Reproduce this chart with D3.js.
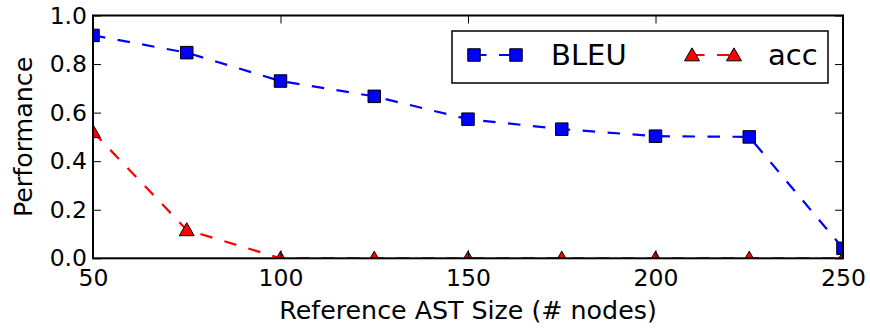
<!DOCTYPE html>
<html>
<head>
<meta charset="utf-8">
<script src="https://cdn.jsdelivr.net/npm/d3@7"></script>
<style>
  body { margin: 0; background: white; }
  text { font-family: "DejaVu Sans", sans-serif; fill: black; }
</style>
</head>
<body>
<div class="chart"></div>
<script>
const astSizes = [50, 75, 100, 125, 150, 175, 200, 225, 250]
const bleuValues = [0.918, 0.847, 0.730, 0.667, 0.573, 0.532, 0.503, 0.500, 0.041]
const accValues = [0.521, 0.117, 0, 0, 0, 0, 0, 0, 0]
const xTickValues = [50, 100, 150, 200, 250]
const yTickValues = [0, 0.2, 0.4, 0.6, 0.8, 1.0]

const drawChart = () => {
  const dims = {
    width: 870,
    height: 329,
    margin: { top: 15.5, right: 27, bottom: 70.7, left: 93 }
  }
  dims.boundedWidth = dims.width - dims.margin.left - dims.margin.right
  dims.boundedHeight = dims.height - dims.margin.top - dims.margin.bottom

  const series = [
    { name: "BLEU", values: bleuValues, color: "#0000ff", marker: "square" },
    { name: "acc", values: accValues, color: "#ff0000", marker: "triangle" }
  ]

  const xScale = d3.scaleLinear()
    .domain([50, 250])
    .range([0, dims.boundedWidth])

  const yScale = d3.scaleLinear()
    .domain([0, 1])
    .range([dims.boundedHeight, 0])

  const lineGenerator = d3.line()
    .x(d => xScale(d[0]))
    .y(d => yScale(d[1]))

  const svg = d3.select(".chart")
    .append("svg")
      .attr("width", dims.width)
      .attr("height", dims.height)

  const bounds = svg.append("g")
      .attr("transform", `translate(${dims.margin.left},${dims.margin.top})`)

  bounds.append("clipPath")
      .attr("id", "plot-clip")
    .append("rect")
      .attr("width", dims.boundedWidth)
      .attr("height", dims.boundedHeight)

  const markerSize = 12.5
  const squarePath = d3.symbol().type(d3.symbolSquare).size(markerSize * markerSize)
  const trianglePath = d3.symbol().type(d3.symbolTriangle).size(markerSize * markerSize * 0.62)

  const plot = bounds.append("g").attr("clip-path", "url(#plot-clip)")

  series.forEach(s => {
    const pts = astSizes.map((x, i) => [x, s.values[i]])
    plot.append("path")
      .attr("d", lineGenerator(pts))
      .attr("fill", "none")
      .attr("stroke", s.color)
      .attr("stroke-width", 2.2)
      .attr("stroke-dasharray", "12.5,12.5")
  })

  series.forEach(s => {
    const pts = astSizes.map((x, i) => [x, s.values[i]])
    plot.selectAll(null)
      .data(pts)
      .join("path")
        .attr("transform", d => `translate(${xScale(d[0])},${yScale(d[1]) + (s.marker == "triangle" ? 1.5 : 0)})`)
        .attr("d", s.marker == "square" ? squarePath() : trianglePath())
        .attr("fill", s.color)
        .attr("stroke", "black")
        .attr("stroke-width", 1)
  })

  // axes, ticks pointing inward
  const tickLen = 8
  const fontSize = "23.5px"

  bounds.append("g")
      .attr("transform", `translate(0,${dims.boundedHeight})`)
      .call(d3.axisBottom(xScale).tickValues(xTickValues).tickFormat(d3.format("d"))
        .tickSize(-tickLen).tickPadding(11))
      .call(g => g.select(".domain").remove())
      .call(g => g.selectAll("text").style("font-size", fontSize).attr("fill", "black"))

  bounds.append("g")
      .call(d3.axisTop(xScale).tickValues(xTickValues).tickFormat("").tickSize(-tickLen))
      .call(g => g.select(".domain").remove())

  bounds.append("g")
      .call(d3.axisLeft(yScale).tickValues(yTickValues).tickFormat(d3.format(".1f"))
        .tickSize(-tickLen).tickPadding(6))
      .call(g => g.select(".domain").remove())
      .call(g => g.selectAll("text").style("font-size", fontSize).attr("fill", "black"))

  bounds.append("g")
      .attr("transform", `translate(${dims.boundedWidth},0)`)
      .call(d3.axisRight(yScale).tickValues(yTickValues).tickFormat("").tickSize(-tickLen))
      .call(g => g.select(".domain").remove())

  bounds.append("rect")
      .attr("width", dims.boundedWidth)
      .attr("height", dims.boundedHeight)
      .attr("fill", "none")
      .attr("stroke", "black")
      .attr("stroke-width", 2)

  // axis labels
  svg.append("text")
      .attr("x", dims.margin.left + dims.boundedWidth / 2)
      .attr("y", 319)
      .attr("text-anchor", "middle")
      .style("font-size", "25.3px")
      .text("Reference AST Size (# nodes)")

  svg.append("text")
      .attr("transform", `translate(32,${dims.margin.top + dims.boundedHeight / 2}) rotate(-90)`)
      .attr("text-anchor", "middle")
      .style("font-size", "25.3px")
      .text("Performance")

  // legend
  const legend = svg.append("g").attr("class", "legend")
  legend.append("rect")
      .attr("x", 452)
      .attr("y", 31)
      .attr("width", 376)
      .attr("height", 52)
      .attr("fill", "white")
      .attr("stroke", "black")
      .attr("stroke-width", 1.5)

  const legendItems = [
    { s: series[0], x0: 474, x1: 516, tx: 551 },
    { s: series[1], x0: 692, x1: 734, tx: 768 }
  ]
  const legendY = 55
  legendItems.forEach(item => {
    legend.append("line")
        .attr("x1", item.x0).attr("x2", item.x1)
        .attr("y1", legendY).attr("y2", legendY)
        .attr("stroke", item.s.color)
        .attr("stroke-width", 2.2)
        .attr("stroke-dasharray", "12.5,12.5")
    ;[item.x0, item.x1].forEach(mx => {
      legend.append("path")
          .attr("transform", `translate(${mx},${legendY + (item.s.marker == "triangle" ? 1.5 : 0)})`)
          .attr("d", item.s.marker == "square" ? squarePath() : trianglePath())
          .attr("fill", item.s.color)
          .attr("stroke", "black")
          .attr("stroke-width", 1)
    })
    legend.append("text")
        .attr("x", item.tx)
        .attr("y", 65)
        .style("font-size", "29px")
        .text(item.s.name)
  })
}
drawChart()
</script>
</body>
</html>
